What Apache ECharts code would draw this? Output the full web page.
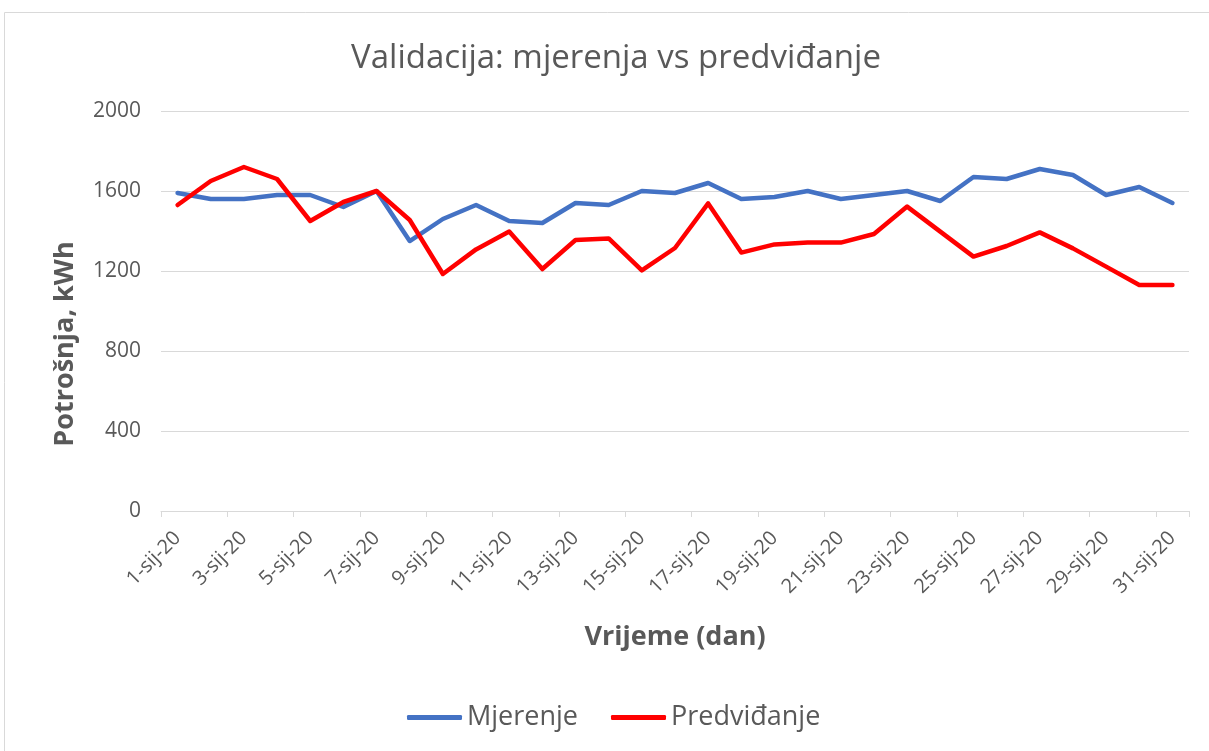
<!DOCTYPE html>
<html>
<head>
<meta charset="utf-8">
<title>Validacija: mjerenja vs predviđanje</title>
<script src="https://cdn.jsdelivr.net/npm/echarts@6/dist/echarts.min.js"></script>
<style>
  html, body { margin: 0; padding: 0; background: #fff; }
  #chart { width: 1209px; height: 751px; }
</style>
</head>
<body>
<div id="chart"></div>
<script>
// dani u siječnju 2020
var days = ['1-sij-20', '2-sij-20', '3-sij-20', '4-sij-20', '5-sij-20', '6-sij-20', '7-sij-20', '8-sij-20',
  '9-sij-20', '10-sij-20', '11-sij-20', '12-sij-20', '13-sij-20', '14-sij-20', '15-sij-20', '16-sij-20',
  '17-sij-20', '18-sij-20', '19-sij-20', '20-sij-20', '21-sij-20', '22-sij-20', '23-sij-20', '24-sij-20',
  '25-sij-20', '26-sij-20', '27-sij-20', '28-sij-20', '29-sij-20', '30-sij-20', '31-sij-20'];

// potrošnja, kWh
var mjerenje = [1590, 1560, 1560, 1580, 1580, 1520, 1600, 1350, 1460, 1530, 1450, 1440, 1540, 1530, 1600, 1590,
  1640, 1560, 1570, 1600, 1560, 1580, 1600, 1550, 1670, 1660, 1710, 1680, 1580, 1620, 1540];
var predvidjanje = [1530, 1650, 1720, 1660, 1450, 1545, 1600, 1455, 1185, 1308, 1397, 1210, 1355, 1363, 1203, 1315,
  1538, 1292, 1333, 1342, 1342, 1385, 1522, 1397, 1272, 1325, 1393, 1313, 1222, 1130, 1130];

var yTicks = [0, 400, 800, 1200, 1600, 2000];

var font = '"Open Sans", sans-serif';
var grey = '#595959';

var chart = echarts.init(document.getElementById('chart'));
chart.setOption({
  animation: false,
  textStyle: { fontFamily: font },
  graphic: [{
    type: 'rect',
    shape: { x: 4.5, y: 12.5, width: 1220, height: 760 },
    style: { fill: 'none', stroke: '#d9d9d9', lineWidth: 1 },
    silent: true
  }],
  title: {
    text: 'Validacija: mjerenja vs predviđanje',
    left: 611,
    textAlign: 'center',
    top: 37,
    textStyle: { fontFamily: font, fontSize: 33, fontWeight: 'normal', color: grey }
  },
  legend: {
    data: ['Mjerenje', 'Predviđanje'],
    left: 402,
    top: 699,
    icon: 'roundRect',
    itemWidth: 55,
    itemHeight: 5,
    itemGap: 33,
    textStyle: { fontFamily: font, fontSize: 27, color: grey }
  },
  grid: { left: 161, right: 20, top: 111, bottom: 240 },
  xAxis: {
    type: 'category',
    data: days,
    boundaryGap: true,
    name: 'Vrijeme (dan)',
    nameLocation: 'middle',
    nameGap: 113,
    nameTextStyle: { fontFamily: font, fontSize: 27, fontWeight: 'bold', color: grey },
    axisLine: { lineStyle: { color: '#d9d9d9', width: 1 } },
    axisTick: { show: true, interval: 1, length: 6, lineStyle: { color: '#d9d9d9' } },
    axisLabel: { interval: 1, rotate: 45, margin: 24, fontSize: 20, color: grey, fontFamily: font }
  },
  yAxis: {
    type: 'value',
    min: yTicks[0],
    max: yTicks[yTicks.length - 1],
    interval: yTicks[1] - yTicks[0],
    name: 'Potrošnja, kWh',
    nameLocation: 'middle',
    nameGap: 82,
    nameRotate: 90,
    nameTextStyle: { fontFamily: font, fontSize: 27, fontWeight: 'bold', color: grey, padding: [0, 66, 0, 0] },
    axisLine: { show: false },
    axisTick: { show: false },
    axisLabel: {
      fontSize: 21, color: grey, margin: 20, fontFamily: font,
      formatter: function (v) { return String(v); }
    },
    splitLine: { lineStyle: { color: '#d9d9d9', width: 1 } }
  },
  series: [
    {
      name: 'Mjerenje',
      type: 'line',
      data: mjerenje,
      showSymbol: false,
      symbol: 'none',
      color: '#4472C4',
      lineStyle: { width: 4.5, color: '#4472C4', cap: 'round', join: 'round' }
    },
    {
      name: 'Predviđanje',
      type: 'line',
      data: predvidjanje,
      showSymbol: false,
      symbol: 'none',
      color: '#FF0000',
      lineStyle: { width: 4.5, color: '#FF0000', cap: 'round', join: 'round' }
    }
  ]
});
</script>
</body>
</html>
